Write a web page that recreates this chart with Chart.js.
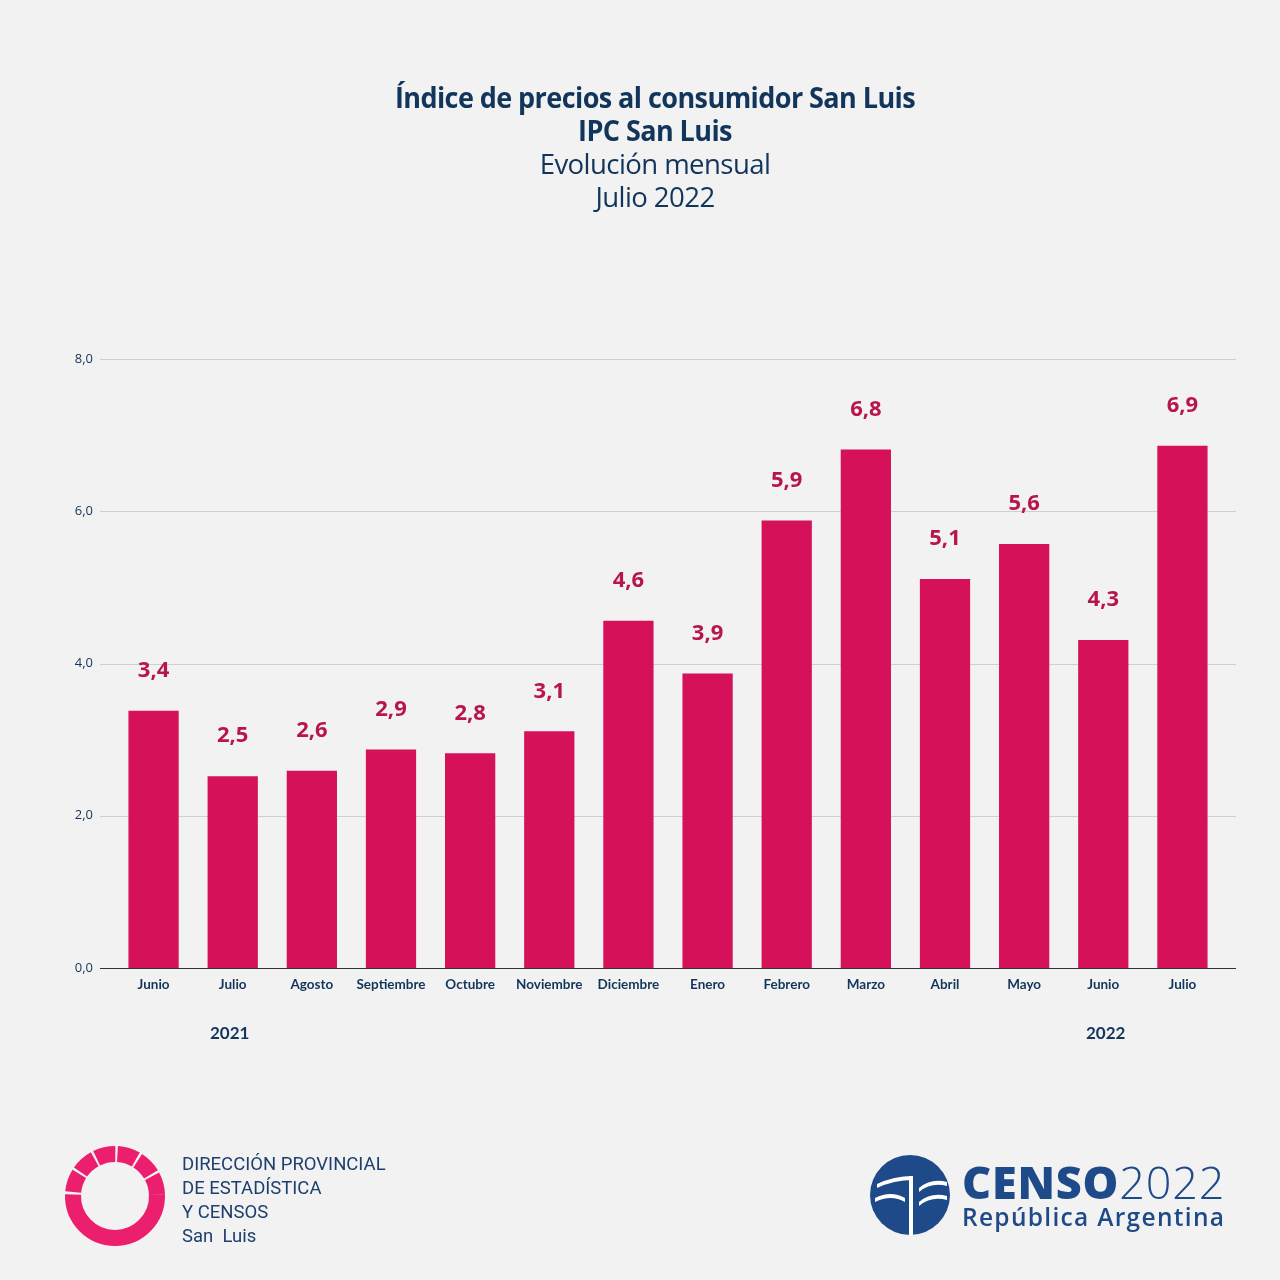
<!DOCTYPE html>
<html><head><meta charset="utf-8">
<script src="https://cdn.jsdelivr.net/npm/chart.js@4.4.1/dist/chart.umd.min.js"></script>
<style>
html,body{margin:0;padding:0;background:#F2F2F2;}
#wrap{position:absolute;left:0;top:0;width:1280px;height:1280px;}
.t{position:absolute;left:0;width:1310px;text-align:center;color:#12355B;font-family:"Open Sans",sans-serif;white-space:nowrap;}
.yr{position:absolute;font-family:"Lato",sans-serif;font-weight:700;font-size:17px;color:#12355B;}
.org{position:absolute;left:182px;top:1152px;font-family:"Roboto",sans-serif;font-size:18.5px;line-height:24px;color:#1E3F6E;}
.censo{position:absolute;left:962px;font-family:"Open Sans",sans-serif;color:#1F4A8A;white-space:nowrap;}
</style></head><body>
<div id="wrap"><canvas id="c" width="1280" height="1280"></canvas></div>
<div class="t" style="top:78px;font-size:28px;font-weight:700;letter-spacing:-0.6px;transform:scaleX(0.965);">Índice de precios al consumidor San Luis</div>
<div class="t" style="top:111px;font-size:28px;font-weight:700;letter-spacing:-0.6px;transform:scaleX(0.965);">IPC San Luis</div>
<div class="t" style="top:144px;font-size:28px;font-weight:400;letter-spacing:-0.6px;transform:scaleX(0.985);">Evolución mensual</div>
<div class="t" style="top:177px;font-size:28px;font-weight:400;letter-spacing:-0.6px;transform:scaleX(0.985);">Julio 2022</div>
<div class="yr" style="left:210px;top:1022px;">2021</div>
<div class="yr" style="left:1086px;top:1022px;">2022</div>
<svg id="ring" style="position:absolute;left:62px;top:1143px" width="106" height="106" viewBox="0 0 106 106"></svg>
<div class="org">DIRECCIÓN PROVINCIAL<br>DE ESTADÍSTICA<br>Y CENSOS<br>San&nbsp; Luis</div>
<svg style="position:absolute;left:869px;top:1154px" width="82" height="82" viewBox="0 0 82 82">
  <circle cx="41" cy="41" r="40" fill="#1F4A8A"/>
  <rect x="40" y="22" width="4" height="60" fill="#fff"/>
  <path d="M 8 30 Q 25 22 44 22 L 44 26 Q 25 26 8 34 Z" fill="#fff"/>
  <path d="M 6 44 Q 22 36 36 44 L 36 48 Q 22 40 6 48 Z" fill="#fff"/>
  <path d="M 50 34 Q 62 24 78 28 L 78 32 Q 62 28 50 38 Z" fill="#fff"/>
  <path d="M 50 48 Q 62 38 78 42 L 78 46 Q 62 42 50 52 Z" fill="#fff"/>
</svg>
<div class="censo" style="top:1157px;font-size:45px;line-height:50px;letter-spacing:0.8px;"><span style="font-weight:800;">CENSO</span><span style="font-weight:300;">2022</span></div>
<div class="censo" style="top:1203px;font-size:24.5px;line-height:28px;font-weight:600;letter-spacing:1.3px;">República Argentina</div>
<script>
const categories = ["Junio","Julio","Agosto","Septiembre","Octubre","Noviembre","Diciembre","Enero","Febrero","Marzo","Abril","Mayo","Junio","Julio"];
const ipcValues = [3.38, 2.52, 2.59, 2.87, 2.82, 3.11, 4.56, 3.87, 5.88, 6.81, 5.11, 5.57, 4.31, 6.86];
const yTicks = [0, 2, 4, 6, 8];

// decorative logo ring
(function(){
  const svg = document.getElementById('ring');
  const cx = 53, cy = 53, r = 42;
  const pt = a => [cx + r*Math.cos(a*Math.PI/180), cy + r*Math.sin(a*Math.PI/180)];
  let html = '';
  const arc = (a0, a1) => {
    const p0 = pt(a0), p1 = pt(a1), large = (a1 - a0) > 180 ? 1 : 0;
    return `<path d="M ${p0[0]} ${p0[1]} A ${r} ${r} 0 ${large} 1 ${p1[0]} ${p1[1]}" fill="none" stroke="#EC1E6E" stroke-width="16"/>`;
  };
  html += arc(-2, 182);
  for (let i = 0; i < 6; i++) html += arc(184 + i*29.3 + 1.5, 184 + (i+1)*29.3 - 1.5);
  svg.innerHTML = html;
})();

const fmt = v => v.toFixed(1).replace('.', ',');

const gridPlugin = {
  id: 'grid',
  beforeDatasetsDraw(chart) {
    const ctx = chart.ctx, y = chart.scales.y;
    ctx.save();
    ctx.strokeStyle = '#CFCFCF';
    ctx.lineWidth = 1;
    yTicks.forEach(t => {
      if (t === 0) return;
      const py = Math.round(y.getPixelForValue(t)) + 0.5;
      ctx.beginPath(); ctx.moveTo(100, py); ctx.lineTo(1236, py); ctx.stroke();
    });
    const py0 = Math.round(y.getPixelForValue(0)) + 0.5;
    ctx.strokeStyle = '#333';
    ctx.beginPath(); ctx.moveTo(100, py0); ctx.lineTo(1236, py0); ctx.stroke();
    ctx.restore();
  },
  afterDatasetsDraw(chart) {
    const ctx = chart.ctx, meta = chart.getDatasetMeta(0);
    ctx.save();
    ctx.fillStyle = '#B8154F';
    ctx.font = 'bold 22px "Open Sans", sans-serif';
    ctx.textAlign = 'center';
    ctx.textBaseline = 'middle';
    meta.data.forEach((bar, i) => {
      ctx.fillText(fmt(ipcValues[i]), bar.x, bar.y - 40);
    });
    ctx.restore();
  }
};

new Chart(document.getElementById('c'), {
  type: 'bar',
  data: { labels: categories, datasets: [{ data: ipcValues, backgroundColor: '#D41159', barPercentage: 0.635, categoryPercentage: 1 }] },
  options: {
    responsive: false, animation: false,
    layout: { padding: { left: 0, right: 58, top: 359, bottom: 282 } },
    plugins: { legend: { display: false }, tooltip: { enabled: false } },
    scales: {
      x: {
        grid: { display: false }, border: { display: false },
        ticks: { color: '#12355B', font: { family: 'Lato', weight: 'bold', size: 13.5 }, padding: 1, maxRotation: 0, autoSkip: false },
        afterFit(s) { s.height = 30; }
      },
      y: {
        min: 0, max: 8,
        grid: { display: false }, border: { display: false },
        afterBuildTicks(s) { s.ticks = yTicks.map(v => ({ value: v })); },
        ticks: { color: '#12355B', font: { family: 'Open Sans', size: 13 }, padding: 13, callback: v => fmt(v) },
        afterFit(s) { s.width = 114; }
      }
    }
  },
  plugins: [gridPlugin]
});
</script>
</body></html>
